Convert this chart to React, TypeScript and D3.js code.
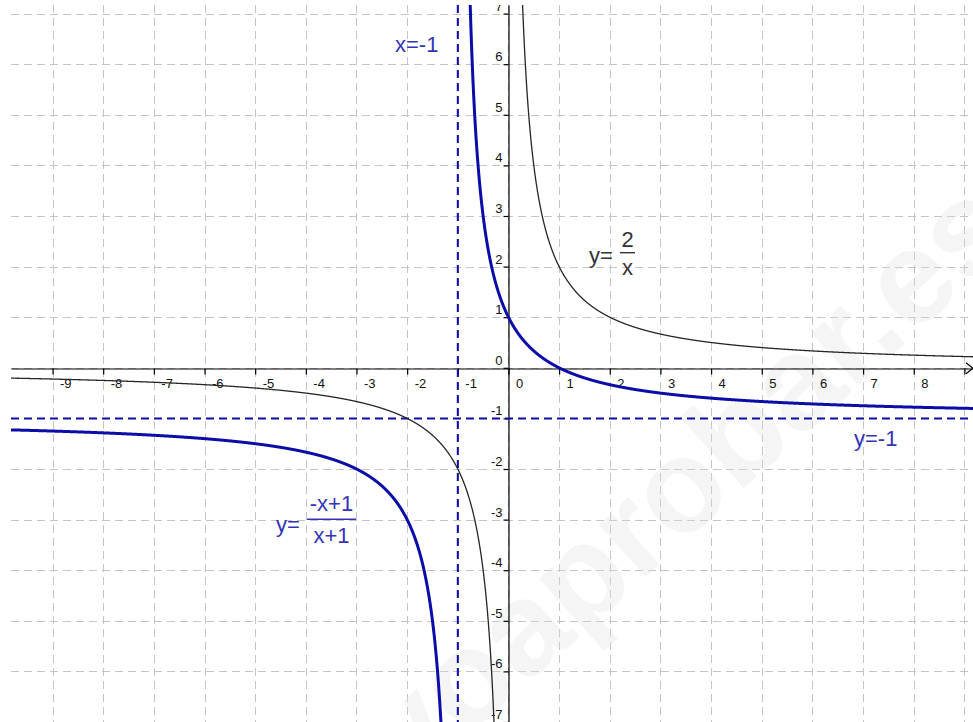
import React, { useRef, useEffect } from 'react';
import * as d3 from 'd3';

// visible window of the graph (in axis units)
const xDomain = [-9.82, 9.17];
const yDomain = [-7.0, 7.17];

const xTickValues = [-9, -8, -7, -6, -5, -4, -3, -2, -1, 0, 1, 2, 3, 4, 5, 6, 7, 8, 9];
const xTickLabels = [-9, -8, -7, -6, -5, -4, -3, -2, -1, 0, 1, 2, 3, 4, 5, 6, 7, 8];
const yTickValues = [-7, -6, -5, -4, -3, -2, -1, 0, 1, 2, 3, 4, 5, 6, 7];
const yTickLabels = [-7, -6, -5, -4, -3, -2, -1, 0, 1, 2, 3, 4, 5, 6, 7];

const verticalAsymptotes = [-1];
const horizontalAsymptotes = [-1];

// y = 2/x, split at x = 0
const hyperbola = (x: number) => 2 / x;
const hyperbolaBranches = [
  [-9.9, -0.25],
  [0.25, 9.2],
];

// y = (-x+1)/(x+1), split at x = -1
const rational = (x: number) => (-x + 1) / (x + 1);
const rationalBranches = [
  [-9.9, -1.29],
  [-0.778, 9.2],
];

const W = 973;
const H = 722;
const FONT = '"Liberation Sans", Arial, sans-serif';
const BLUE = '#0c0ca8';

const Graph = () => {
  const ref = useRef<SVGSVGElement>(null);

  useEffect(() => {
    const svg = d3.select(ref.current);
    svg.selectAll('*').remove();

    const left = 11;
    const top = 5;

    const x = d3.scaleLinear().domain(xDomain).range([left, W]);
    const y = d3.scaleLinear().domain(yDomain).range([H, top]);

    svg.append('rect').attr('width', W).attr('height', H).attr('fill', '#fff');

    svg
      .append('defs')
      .append('clipPath')
      .attr('id', 'view')
      .append('rect')
      .attr('x', left)
      .attr('y', top)
      .attr('width', W - left)
      .attr('height', H - top);

    const g = svg.append('g').attr('clip-path', 'url(#view)');

    // grid
    const grid = g.append('g').attr('stroke', '#c4c4c4').attr('stroke-width', 1).attr('stroke-dasharray', '8,5');
    grid
      .selectAll('line.v')
      .data(xTickValues)
      .enter()
      .append('line')
      .attr('class', 'v')
      .attr('x1', (d) => Math.round(x(d)) + 0.5)
      .attr('x2', (d) => Math.round(x(d)) + 0.5)
      .attr('y1', top)
      .attr('y2', H);
    grid
      .selectAll('line.h')
      .data(yTickValues)
      .enter()
      .append('line')
      .attr('class', 'h')
      .attr('x1', left)
      .attr('x2', W)
      .attr('y1', (d) => Math.round(y(d)) + 0.5)
      .attr('y2', (d) => Math.round(y(d)) + 0.5);

    // watermark (cut by the edges, as in the original)
    g.append('text')
      .attr('transform', 'translate(692,488) rotate(-42)')
      .attr('text-anchor', 'middle')
      .attr('dominant-baseline', 'middle')
      .attr('font-family', FONT)
      .attr('font-weight', 'bold')
      .attr('font-size', 132)
      .attr('fill', '#dedede')
      .attr('fill-opacity', 0.3)
      .text('yoaprobar.es');

    // axes
    const xAxis = g
      .append('g')
      .attr('transform', `translate(0,${Math.round(y(0)) + 0.5})`)
      .call(
        d3
          .axisBottom(x)
          .tickValues(xTickValues)
          .tickSize(6)
          .tickSizeOuter(0)
          .tickFormat((d) => (xTickLabels.includes(+d) ? String(d).replace('−', '-') : ''))
      );
    xAxis.attr('color', '#000').attr('font-family', FONT).attr('font-size', 13);
    xAxis.select('.domain').attr('stroke-width', 1.2);
    xAxis.selectAll('.tick line').attr('stroke-width', 1.2);
    xAxis
      .selectAll('.tick text')
      .attr('x', 7)
      .attr('y', 19)
      .attr('dy', 0)
      .style('text-anchor', 'start')
      .attr('fill', '#111');

    // arrow on the x axis
    g.append('path')
      .attr('d', `M${W - 7},${y(0) - 5}L${W},${y(0) + 0.5}L${W - 7},${y(0) + 6}`)
      .attr('fill', 'none')
      .attr('stroke', '#000')
      .attr('stroke-width', 1.2);

    const yAxis = g
      .append('g')
      .attr('transform', `translate(${Math.round(x(0)) + 0.5},0)`)
      .call(
        d3
          .axisLeft(y)
          .tickValues(yTickValues)
          .tickSize(5)
          .tickSizeOuter(0)
          .tickFormat((d) => (yTickLabels.includes(+d) ? String(d).replace('−', '-') : ''))
      );
    yAxis.attr('color', '#000').attr('font-family', FONT).attr('font-size', 13);
    yAxis.select('.domain').attr('stroke-width', 1.2);
    yAxis.selectAll('.tick line').attr('stroke-width', 1.2);
    yAxis
      .selectAll('.tick text')
      .attr('x', -6)
      .attr('y', -3.5)
      .attr('dy', 0)
      .style('text-anchor', 'end')
      .attr('fill', '#111');

    // asymptotes
    g.selectAll('line.va')
      .data(verticalAsymptotes)
      .enter()
      .append('line')
      .attr('x1', (d) => x(d))
      .attr('x2', (d) => x(d))
      .attr('y1', top)
      .attr('y2', H)
      .attr('stroke', BLUE)
      .attr('stroke-width', 2)
      .attr('stroke-dasharray', '8,5');
    g.selectAll('line.ha')
      .data(horizontalAsymptotes)
      .enter()
      .append('line')
      .attr('x1', left)
      .attr('x2', W)
      .attr('y1', (d) => y(d))
      .attr('y2', (d) => y(d))
      .attr('stroke', BLUE)
      .attr('stroke-width', 2)
      .attr('stroke-dasharray', '8,5');

    // curves
    const line = d3
      .line<number[]>()
      .x((d) => x(d[0]))
      .y((d) => y(d[1]));

    const sample = (f: (v: number) => number, [a, b]: number[]) =>
      d3.range(0, 3001).map((i) => {
        const v = a + ((b - a) * i) / 3000;
        return [v, f(v)];
      });

    g.selectAll('path.hyp')
      .data(hyperbolaBranches)
      .enter()
      .append('path')
      .attr('d', (d) => line(sample(hyperbola, d)))
      .attr('fill', 'none')
      .attr('stroke', '#262626')
      .attr('stroke-width', 1.3);

    g.selectAll('path.rat')
      .data(rationalBranches)
      .enter()
      .append('path')
      .attr('d', (d) => line(sample(rational, d)))
      .attr('fill', 'none')
      .attr('stroke', BLUE)
      .attr('stroke-width', 3);

    // labels
    const labels = svg.append('g').attr('font-family', FONT).attr('font-size', 22);

    labels.append('text').attr('x', 395).attr('y', 52).attr('fill', '#3434b8').text('x=-1');
    labels.append('text').attr('x', 854).attr('y', 446).attr('fill', '#3434b8').text('y=-1');

    const fraction = (
      sx: number,
      sy: number,
      num: string,
      den: string,
      lineX1: number,
      lineX2: number,
      lineY: number,
      numY: number,
      denY: number,
      color: string
    ) => {
      labels.append('text').attr('x', sx).attr('y', sy).attr('fill', color).text('y=');
      const cx = (lineX1 + lineX2) / 2;
      labels.append('text').attr('x', cx).attr('y', numY).attr('text-anchor', 'middle').attr('fill', color).text(num);
      labels.append('text').attr('x', cx).attr('y', denY).attr('text-anchor', 'middle').attr('fill', color).text(den);
      labels
        .append('line')
        .attr('x1', lineX1)
        .attr('x2', lineX2)
        .attr('y1', lineY)
        .attr('y2', lineY)
        .attr('stroke', color)
        .attr('stroke-width', 1.4);
    };

    fraction(589, 263, '2', 'x', 620, 635, 252.7, 247, 275, '#333');
    fraction(276, 532, '-x+1', 'x+1', 307, 356, 519.3, 511, 543, '#3434b8');
  }, []);

  return <svg ref={ref} width={W} height={H} style={{ position: 'absolute', left: 0, top: 0, display: 'block' }}></svg>;
};

export default function App() {
  return <Graph />;
}
